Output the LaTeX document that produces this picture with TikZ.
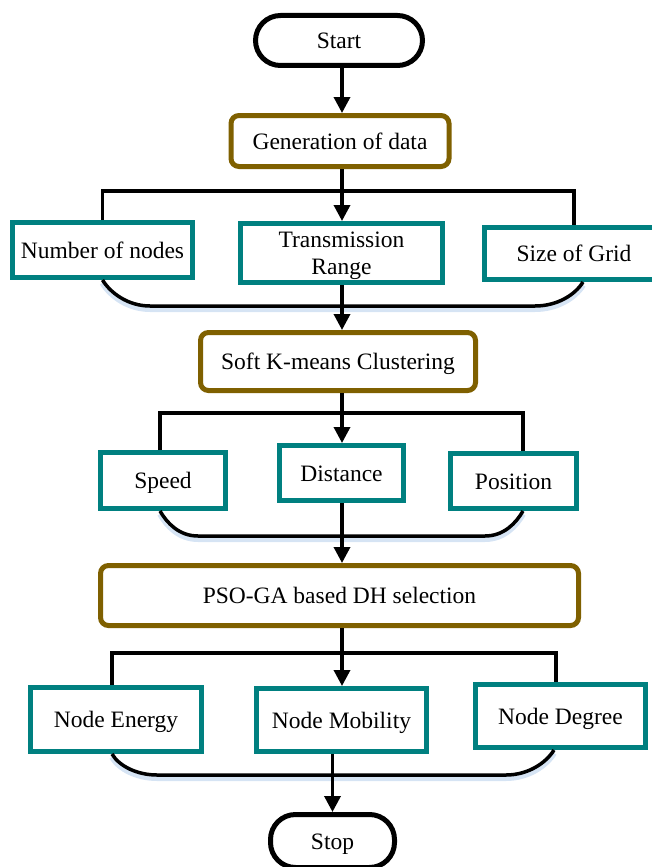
\documentclass[tikz,border=0pt]{standalone}
\usepackage{fontspec}
\setmainfont{Liberation Serif}
\usetikzlibrary{arrows.meta,calc}
\definecolor{brownb}{RGB}{127,96,0}
\definecolor{tealb}{RGB}{0,128,128}
\definecolor{glowc}{RGB}{214,228,244}
\begin{document}
\begin{tikzpicture}[x=1pt,y=-1pt,
  every node/.style={font=\fontsize{23.5}{27}\selectfont, text=black, inner sep=2pt,
    text height=16pt, text depth=0pt},
  term/.style={draw=black, line width=5pt, rounded corners=25pt, fill=white},
  procbox/.style={draw=brownb, line width=5pt, rounded corners=8pt, fill=white},
  leaf/.style={draw=tealb, line width=5pt, fill=white, align=center},
  conn/.style={line width=3.5pt, black},
  arr/.style={conn, -{Triangle[length=16pt,width=16pt]}},
  glowline/.style={line width=6pt, glowc, transform canvas={yshift=-3pt}},
]
\clip (0,0) rectangle (652,867);

% nodes
\node[term, minimum width=167pt, minimum height=50pt] (start) at (339,40.5) {Start};
\node[procbox, minimum width=218pt, minimum height=51pt] (gen) at (340,141) {Generation of data};

\node[leaf, minimum width=180pt, minimum height=55pt] (num) at (102.5,250) {Number of nodes};
\node[leaf, minimum width=202pt, minimum height=59pt, text height=43pt] (trans) at (341.5,253) {Transmission\\Range};
\node[leaf, minimum width=179pt, minimum height=52pt] (grid) at (574,253.5) {Size of Grid};

\node[procbox, minimum width=275pt, minimum height=58pt] (soft) at (338,361.5) {Soft K-means Clustering};

\node[leaf, minimum width=125pt, minimum height=56pt] (speed) at (163,480.5) {Speed};
\node[leaf, minimum width=124pt, minimum height=55pt] (dist) at (341.5,473) {Distance};
\node[leaf, minimum width=126pt, minimum height=55pt] (pos) at (513.5,481) {Position};

\node[procbox, minimum width=478pt, minimum height=60pt] (pso) at (339.5,595.5) {PSO-GA based DH selection};

\node[leaf, minimum width=171pt, minimum height=64pt] (energy) at (116,719.5) {Node Energy};
\node[leaf, minimum width=170pt, minimum height=63pt] (mob) at (341.5,720) {Node Mobility};
\node[leaf, minimum width=170pt, minimum height=63pt] (degree) at (560.5,716) {Node Degree};

\node[term, minimum width=124pt, minimum height=53pt] (stop) at (332.5,841) {Stop};

% helper coordinates
\coordinate (axis) at (342,0);
\coordinate (bar1) at (342,191);
\coordinate (c1l) at (150,306);
\coordinate (c1r) at (535,306);
\coordinate (g1) at ($(grid.south)+(9,0)$);

\coordinate (bar2) at (342,413);
\coordinate (s1) at ($(speed.north)+(-3,0)$);
\coordinate (s2) at ($(speed.south)+(-3,0)$);
\coordinate (p1) at ($(pos.north)+(9.5,0)$);
\coordinate (p2) at ($(pos.south)+(9.5,0)$);
\coordinate (c2l) at (198,536);
\coordinate (c2r) at (485,536);

\coordinate (bar3) at (342,653);
\coordinate (e1) at ($(energy.north)+(-4,0)$);
\coordinate (e2) at ($(energy.south)+(-4,0)$);
\coordinate (d1) at ($(degree.north)+(-4.5,0)$);
\coordinate (d2) at ($(degree.south)+(-6.5,0)$);
\coordinate (c3l) at (157,775);
\coordinate (c3r) at (506,775);

% soft glow under the merging curves
\draw[glowline] (num.south) .. controls +(8,13) and +(-22,0) .. (c1l) -- (c1r) .. controls +(22,0) and +(-8,13) .. (g1);
\draw[glowline] (s2) .. controls +(7,12) and +(-19,0) .. (c2l) -- (c2r) .. controls +(19,0) and +(-7,12) .. (p2);
\draw[glowline] (e2) .. controls +(7,12) and +(-20,0) .. (c3l) -- (c3r) .. controls +(22,0) and +(-8,13) .. (d2);

% connectors
\draw[arr] (start.south -| axis) -- (gen.north -| axis);
\draw[conn] (gen.south -| axis) -- (bar1);
\draw[arr] (bar1) -- (trans.north -| axis);
\draw[conn] (num.north) |- (bar1) -| (grid.north);
\draw[conn] (num.south) .. controls +(8,13) and +(-22,0) .. (c1l) -- (c1r) .. controls +(22,0) and +(-8,13) .. (g1);

\draw[arr] (trans.south -| axis) -- (soft.north -| axis);
\draw[conn] (soft.south -| axis) -- (bar2);
\draw[arr] (bar2) -- (dist.north -| axis);
\draw[conn] (s1) |- (bar2) -| (p1);
\draw[conn] (s2) .. controls +(7,12) and +(-19,0) .. (c2l) -- (c2r) .. controls +(19,0) and +(-7,12) .. (p2);

\draw[arr] (dist.south -| axis) -- (pso.north -| axis);
\draw[conn] (pso.south -| axis) -- (bar3);
\draw[arr] (bar3) -- (mob.north -| axis);
\draw[conn] (e1) |- (bar3) -| (d1);
\draw[conn] (e2) .. controls +(7,12) and +(-20,0) .. (c3l) -- (c3r) .. controls +(22,0) and +(-8,13) .. (d2);

\draw[arr] (mob.south -| stop.north) -- (stop.north);
\end{tikzpicture}
\end{document}
